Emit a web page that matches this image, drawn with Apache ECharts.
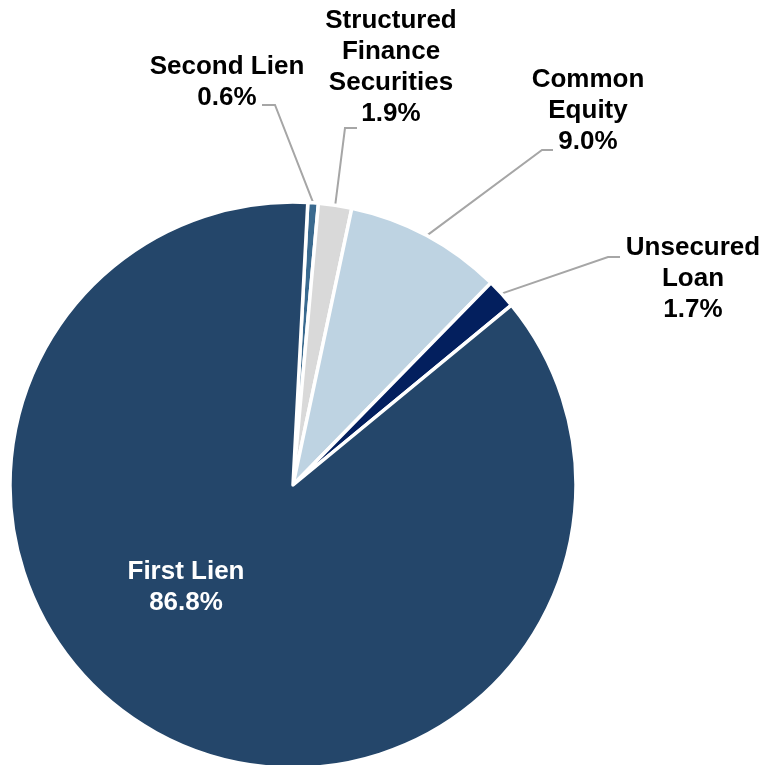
<!DOCTYPE html>
<html>
<head>
<meta charset="utf-8">
<script src="https://cdn.jsdelivr.net/npm/echarts@6/dist/echarts.min.js"></script>
<style>
html,body{margin:0;padding:0;background:#fff;}
#chart{width:765px;height:765px;}
</style>
</head>
<body>
<div id="chart"></div>
<script>
// Data
var categories = ['Second Lien', 'Structured\nFinance\nSecurities', 'Common\nEquity', 'Unsecured\nLoan', 'First Lien'];
var values = [0.6, 1.9, 9.0, 1.7, 86.8];
var colors = ['#3A6A8F', '#D9D9D9', '#BED3E2', '#031F5E', '#24466A'];

// Label placement (layout only)
var labelPos = [
  {x: 227, y: 82, bend: [275, 105], end: [262, 105]},
  {x: 391, y: 67, bend: [345, 128], end: [357, 128]},
  {x: 588, y: 111, bend: [542, 150], end: [553, 150]},
  {x: 693, y: 279, bend: [608, 257], end: [620, 257]},
  {x: 186, y: 587}
];

var chart = echarts.init(document.getElementById('chart'), null, {renderer: 'canvas'});
var data = categories.map(function (c, i) {
  var inside = i === 4;
  return {
    name: c,
    value: values[i],
    itemStyle: {color: colors[i]},
    label: {color: inside ? '#FFFFFF' : '#000000'},
    labelLine: {show: !inside}
  };
});

chart.setOption({
  animation: false,
  series: [{
    type: 'pie',
    center: [293, 485],
    radius: 283,
    startAngle: 87,
    clockwise: true,
    data: data,
    itemStyle: {borderColor: '#FFFFFF', borderWidth: 3.5},
    label: {
      show: true,
      position: 'outside',
      formatter: function (p) { return p.name + '\n' + p.value.toFixed(1) + '%'; },
      fontFamily: '"Liberation Sans", Arial, sans-serif',
      fontWeight: 'bold',
      fontSize: 26,
      lineHeight: 31,
      align: 'center'
    },
    labelLine: {
      show: true,
      length: 20,
      length2: 10,
      lineStyle: {color: '#A6A6A6', width: 2}
    },
    labelLayout: function (params) {
      var lp = labelPos[params.dataIndex];
      var out = {x: lp.x, y: lp.y, align: 'center', verticalAlign: 'middle'};
      if (lp.bend && params.labelLinePoints) {
        out.labelLinePoints = [params.labelLinePoints[0], lp.bend, lp.end];
      }
      return out;
    }
  }]
});
</script>
</body>
</html>
